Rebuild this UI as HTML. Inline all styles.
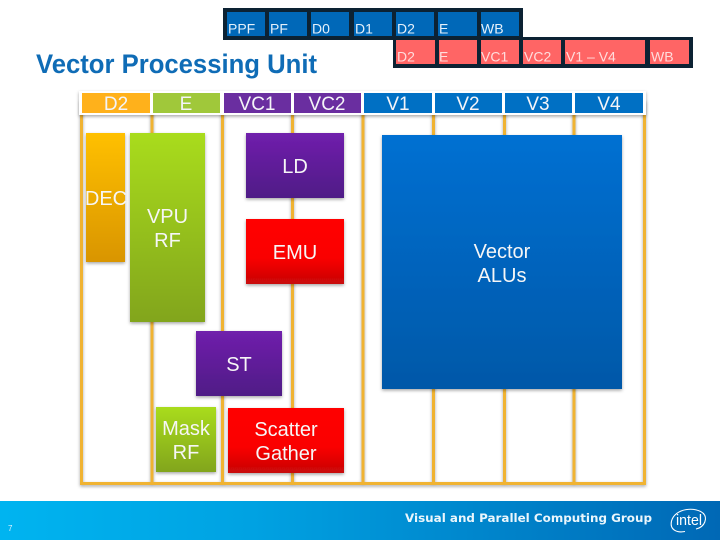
<!DOCTYPE html>
<html>
<head>
<meta charset="utf-8">
<style>
html,body{margin:0;padding:0;background:#fff;width:720px;height:540px;overflow:hidden}
svg{display:block}
text{font-family:"Liberation Sans",sans-serif}
</style>
</head>
<body>
<svg width="720" height="540" viewBox="0 0 720 540" xmlns="http://www.w3.org/2000/svg">
<defs>
<linearGradient id="foot" x1="0" x2="1" y1="0" y2="0"><stop offset="0" stop-color="#00b4f0"/><stop offset="0.35" stop-color="#00a2e2"/><stop offset="1" stop-color="#0068b5"/></linearGradient>
<linearGradient id="or" x1="0" x2="0" y1="0" y2="1"><stop offset="0" stop-color="#ffc000"/><stop offset="1" stop-color="#d99500"/></linearGradient>
<linearGradient id="gr" x1="0" x2="0" y1="0" y2="1"><stop offset="0" stop-color="#a9dc1c"/><stop offset="1" stop-color="#82a51a"/></linearGradient>
<linearGradient id="pu" x1="0" x2="0" y1="0" y2="1"><stop offset="0" stop-color="#7020ac"/><stop offset="1" stop-color="#4f1a86"/></linearGradient>
<linearGradient id="re" x1="0" x2="0" y1="0" y2="1"><stop offset="0" stop-color="#ff0000"/><stop offset="0.6" stop-color="#fa0000"/><stop offset="1" stop-color="#c80808"/></linearGradient>
<linearGradient id="bl" x1="0" x2="0" y1="0" y2="1"><stop offset="0" stop-color="#0070d2"/><stop offset="1" stop-color="#0058a8"/></linearGradient>
<filter id="sh" x="-20%" y="-20%" width="140%" height="140%"><feDropShadow dx="0" dy="1.5" stdDeviation="1.5" flood-color="#000" flood-opacity="0.35"/></filter>
</defs>

<!-- Top pipeline -->
<rect x="223" y="8" width="300" height="32" fill="#0c2233"/>
<g fill="#0068b8">
<rect x="227" y="12" width="38" height="24"/><rect x="269" y="12" width="38" height="24"/><rect x="311" y="12" width="38" height="24"/><rect x="354" y="12" width="38" height="24"/><rect x="396" y="12" width="38" height="24"/><rect x="438" y="12" width="39" height="24"/><rect x="481" y="12" width="38" height="24"/>
</g>
<rect x="393" y="37" width="300" height="31" fill="#0c2233"/>
<g fill="#ff6565">
<rect x="396" y="40" width="39" height="24"/><rect x="439" y="40" width="38" height="24"/><rect x="481" y="40" width="38" height="24"/><rect x="523" y="40" width="38" height="24"/><rect x="565" y="40" width="80" height="24"/><rect x="650" y="40" width="39" height="24"/>
</g>
<g font-size="14" fill="#e4f0fa">
<text x="228" y="33.500">PPF</text><text x="270" y="33.500">PF</text><text x="312" y="33.500">D0</text><text x="355" y="33.500">D1</text><text x="397" y="33.500">D2</text><text x="439" y="33.500">E</text><text x="481" y="33.500">WB</text>
</g>
<g font-size="14" fill="#ffdcdc">
<text x="397" y="61.500">D2</text><text x="439" y="61.500">E</text><text x="481" y="61.500">VC1</text><text x="524" y="61.500">VC2</text><text x="566" y="61.500">V1 – V4</text><text x="651" y="61.500">WB</text>
</g>

<!-- Title -->
<text x="36" y="73" font-size="27" font-weight="700" fill="#0f6cb6" textLength="281" lengthAdjust="spacingAndGlyphs">Vector Processing Unit</text>

<!-- Grid -->
<g fill="#f0b332" filter="url(#sh)">
<rect x="80" y="100" width="3" height="385"/><rect x="150.500" y="100" width="3" height="385"/><rect x="221" y="100" width="3" height="385"/><rect x="291" y="100" width="3" height="385"/><rect x="361.500" y="100" width="3" height="385"/><rect x="432" y="100" width="3" height="385"/><rect x="503" y="100" width="3" height="385"/><rect x="572.500" y="100" width="3" height="385"/><rect x="643" y="100" width="3" height="385"/>
<rect x="80" y="482" width="566" height="3"/>
</g>

<!-- Header strip -->
<rect x="79" y="91" width="567" height="24" fill="#fff" filter="url(#sh)"/>
<rect x="82" y="93" width="68" height="20" fill="#ffb11b"/>
<rect x="153" y="93" width="67" height="20" fill="#a0c83a"/>
<rect x="224" y="93" width="67" height="20" fill="#6a2ea0"/>
<rect x="294" y="93" width="67" height="20" fill="#6a2ea0"/>
<rect x="364" y="93" width="68" height="20" fill="#0070c4"/>
<rect x="435" y="93" width="67" height="20" fill="#0070c4"/>
<rect x="505" y="93" width="67" height="20" fill="#0070c4"/>
<rect x="575" y="93" width="68" height="20" fill="#0070c4"/>
<g font-size="19" fill="#f4f4f8" text-anchor="middle">
<text x="116" y="110">D2</text><text x="186" y="110">E</text><text x="257" y="110">VC1</text><text x="327" y="110">VC2</text><text x="398" y="110">V1</text><text x="468" y="110">V2</text><text x="538" y="110">V3</text><text x="609" y="110">V4</text>
</g>

<!-- Blocks -->
<g filter="url(#sh)">
<rect x="86" y="133" width="39" height="129" fill="url(#or)"/>
<rect x="130" y="133" width="75" height="189" fill="url(#gr)"/>
<rect x="246" y="133" width="98" height="65" fill="url(#pu)"/>
<rect x="246" y="219" width="98" height="65" fill="url(#re)"/>
<rect x="196" y="331" width="86" height="65" fill="url(#pu)"/>
<rect x="156" y="407" width="60" height="65" fill="url(#gr)"/>
<rect x="228" y="408" width="116" height="65" fill="url(#re)"/>
<rect x="382" y="135" width="240" height="254" fill="url(#bl)"/>
</g>
<g font-size="20" fill="#f6f6f6" text-anchor="middle">
<text x="106" y="205">DEC</text>
<text x="167.500" y="223">VPU</text><text x="167.500" y="247">RF</text>
<text x="295" y="173">LD</text>
<text x="295" y="259">EMU</text>
<text x="239" y="371">ST</text>
<text x="186" y="435">Mask</text><text x="186" y="459">RF</text>
<text x="286" y="436">Scatter</text><text x="286" y="460">Gather</text>
<text x="502" y="258">Vector</text><text x="502" y="282">ALUs</text>
</g>

<!-- Footer -->
<rect x="0" y="501" width="720" height="39" fill="url(#foot)"/>
<text x="8" y="531" font-size="8" fill="#d8f2ff">7</text>
<text x="405" y="522" font-size="11.500" font-weight="700" fill="#eaf6fc" textLength="247" lengthAdjust="spacingAndGlyphs" style="font-family:'DejaVu Sans',sans-serif">Visual and Parallel Computing Group</text>
<path d="M704 514 C696 506 675 508 671.500 521 C669.500 530 677 533 685 531.500" fill="none" stroke="#fff" stroke-width="1.100"/>
<path d="M703 513 C708 518 705 527 696 529" fill="none" stroke="#fff" stroke-width="1.100"/>
<text x="689" y="525" font-size="14.500" font-weight="400" fill="#fff" text-anchor="middle" textLength="26" lengthAdjust="spacingAndGlyphs">intel</text>
</svg>
</body>
</html>
